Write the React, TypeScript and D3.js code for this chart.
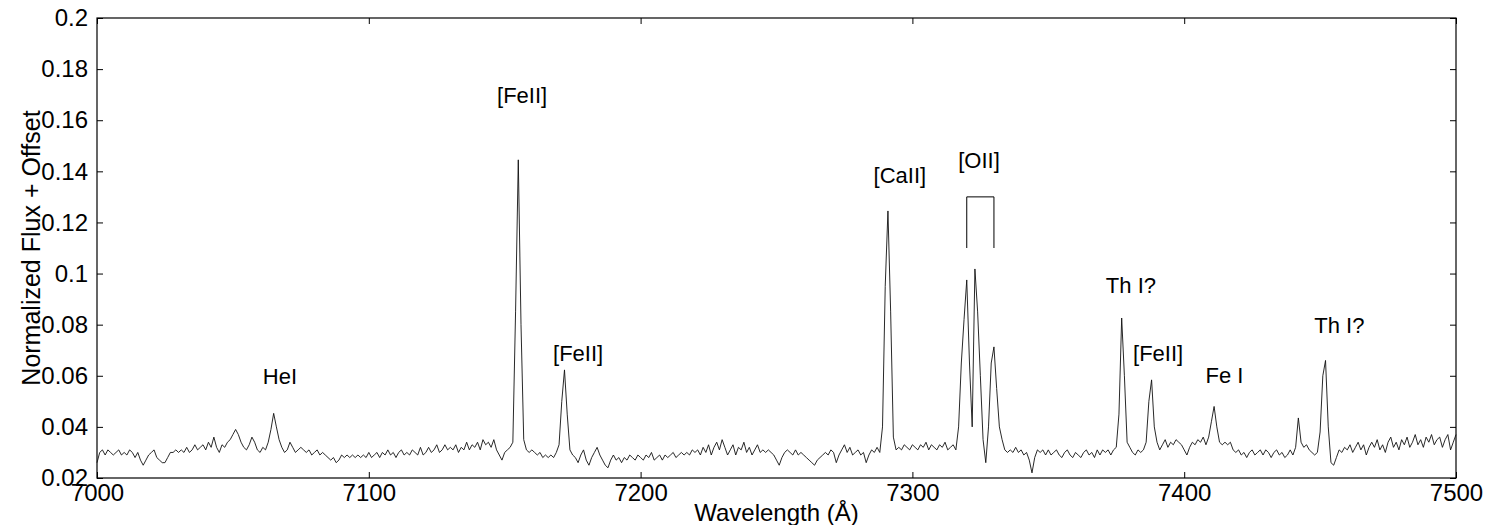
import React, { useEffect, useRef } from 'react';
import * as d3 from 'd3';

const WAVE_START = 7000;
const FLUX = [
  0.026, 0.030, 0.031, 0.029, 0.031, 0.030, 0.029, 0.030, 0.031, 0.029,
  0.030, 0.029, 0.031, 0.030, 0.028, 0.030, 0.027, 0.025, 0.027, 0.029,
  0.030, 0.031, 0.028, 0.027, 0.026, 0.026, 0.028, 0.030, 0.030, 0.031,
  0.030, 0.031, 0.030, 0.032, 0.030, 0.031, 0.033, 0.031, 0.032, 0.033,
  0.031, 0.034, 0.032, 0.036, 0.032, 0.030, 0.033, 0.032, 0.034, 0.035,
  0.037, 0.039, 0.037, 0.034, 0.032, 0.031, 0.033, 0.036, 0.034, 0.031,
  0.030, 0.032, 0.031, 0.034, 0.039, 0.0453, 0.040, 0.035, 0.032, 0.030,
  0.031, 0.034, 0.032, 0.030, 0.031, 0.032, 0.031, 0.030, 0.031, 0.029,
  0.030, 0.031, 0.029, 0.030, 0.029, 0.028, 0.027, 0.028, 0.026, 0.027,
  0.029, 0.028, 0.029, 0.028, 0.029, 0.028, 0.029, 0.028, 0.029, 0.028,
  0.030, 0.028, 0.029, 0.030, 0.028, 0.030, 0.029, 0.031, 0.029, 0.030,
  0.028, 0.030, 0.031, 0.029, 0.030, 0.029, 0.031, 0.030, 0.029, 0.032,
  0.029, 0.030, 0.032, 0.030, 0.031, 0.033, 0.030, 0.031, 0.033, 0.031,
  0.032, 0.031, 0.033, 0.030, 0.032, 0.031, 0.034, 0.031, 0.033, 0.032,
  0.034, 0.031, 0.035, 0.033, 0.034, 0.032, 0.035, 0.031, 0.029, 0.027,
  0.030, 0.031, 0.032, 0.034, 0.085, 0.1445, 0.080, 0.035, 0.031, 0.030,
  0.031, 0.030, 0.029, 0.030, 0.028, 0.029, 0.028, 0.029, 0.028, 0.030,
  0.033, 0.050, 0.0623, 0.045, 0.031, 0.029, 0.028, 0.026, 0.029, 0.031,
  0.027, 0.025, 0.028, 0.030, 0.032, 0.029, 0.027, 0.025, 0.024, 0.027,
  0.029, 0.027, 0.028, 0.026, 0.028, 0.027, 0.029, 0.028, 0.027, 0.029,
  0.028, 0.027, 0.029, 0.028, 0.030, 0.027, 0.028, 0.029, 0.027, 0.029,
  0.028, 0.029, 0.030, 0.028, 0.029, 0.030, 0.029, 0.030, 0.029, 0.031,
  0.030, 0.031, 0.029, 0.032, 0.030, 0.033, 0.029, 0.032, 0.034, 0.031,
  0.035, 0.032, 0.029, 0.031, 0.033, 0.029, 0.032, 0.031, 0.034, 0.030,
  0.032, 0.029, 0.031, 0.033, 0.030, 0.031, 0.030, 0.031, 0.030, 0.029,
  0.027, 0.025, 0.028, 0.030, 0.031, 0.030, 0.029, 0.031, 0.029, 0.030,
  0.029, 0.028, 0.027, 0.026, 0.025, 0.027, 0.028, 0.029, 0.030, 0.029,
  0.031, 0.030, 0.026, 0.029, 0.031, 0.033, 0.030, 0.032, 0.029, 0.030,
  0.031, 0.029, 0.030, 0.026, 0.029, 0.031, 0.030, 0.032, 0.030, 0.040,
  0.095, 0.1245, 0.085, 0.036, 0.031, 0.032, 0.031, 0.033, 0.032, 0.031,
  0.033, 0.032, 0.031, 0.033, 0.032, 0.034, 0.031, 0.033, 0.032, 0.031,
  0.033, 0.032, 0.034, 0.031, 0.032, 0.033, 0.031, 0.040, 0.065, 0.082,
  0.0975, 0.065, 0.040, 0.1018, 0.085, 0.060, 0.035, 0.026, 0.040, 0.065,
  0.0713, 0.055, 0.040, 0.035, 0.031, 0.030, 0.031, 0.030, 0.032, 0.030,
  0.031, 0.029, 0.030, 0.027, 0.022, 0.028, 0.031, 0.030, 0.031, 0.029,
  0.031, 0.029, 0.030, 0.031, 0.029, 0.028, 0.030, 0.031, 0.029, 0.028,
  0.030, 0.029, 0.028, 0.030, 0.031, 0.029, 0.030, 0.028, 0.031, 0.029,
  0.031, 0.030, 0.031, 0.029, 0.031, 0.032, 0.045, 0.0826, 0.060, 0.034,
  0.032, 0.030, 0.029, 0.031, 0.030, 0.031, 0.034, 0.050, 0.0584, 0.040,
  0.034, 0.031, 0.033, 0.035, 0.032, 0.034, 0.033, 0.035, 0.034, 0.033,
  0.031, 0.029, 0.032, 0.034, 0.033, 0.035, 0.034, 0.036, 0.033, 0.036,
  0.042, 0.048, 0.040, 0.034, 0.033, 0.034, 0.033, 0.034, 0.031, 0.030,
  0.031, 0.029, 0.030, 0.028, 0.030, 0.031, 0.029, 0.030, 0.031, 0.029,
  0.031, 0.030, 0.028, 0.030, 0.031, 0.029, 0.030, 0.028, 0.029, 0.031,
  0.029, 0.032, 0.0435, 0.034, 0.032, 0.033, 0.031, 0.030, 0.029, 0.030,
  0.038, 0.060, 0.066, 0.040, 0.026, 0.025, 0.028, 0.031, 0.030, 0.032,
  0.031, 0.033, 0.030, 0.032, 0.034, 0.031, 0.033, 0.029, 0.032, 0.034,
  0.032, 0.035, 0.031, 0.033, 0.030, 0.034, 0.036, 0.032, 0.034, 0.031,
  0.035, 0.033, 0.036, 0.032, 0.034, 0.037, 0.033, 0.035, 0.032, 0.036,
  0.034, 0.037, 0.033, 0.035, 0.036, 0.032, 0.035, 0.037, 0.031, 0.034,
  0.037,
];

const X_TICKS = [7000, 7100, 7200, 7300, 7400, 7500];
const Y_TICKS = [0.02, 0.04, 0.06, 0.08, 0.1, 0.12, 0.14, 0.16, 0.18, 0.2];

// line identifications: label, wavelength of label centre, flux of label baseline
const LINE_LABELS = ['HeI', '[FeII]', '[FeII]', '[CaII]', '[OII]', 'Th I?', '[FeII]', 'Fe I', 'Th I?'];
const LABEL_WAVE = [7067.3, 7156.4, 7177, 7295.4, 7324.5, 7380.4, 7390.4, 7414.8, 7457.1];
const LABEL_FLUX = [0.0568, 0.1668, 0.0658, 0.1355, 0.1413, 0.0924, 0.0658, 0.057, 0.0768];

// [OII] doublet bracket
const BRACKET_WAVE = [7320, 7330];
const BRACKET_FLUX = [0.11, 0.13];

export default function App() {
  const ref = useRef<SVGSVGElement>(null);

  useEffect(() => {
    const svg = d3.select(ref.current);
    svg.selectAll('*').remove();

    const W = 1500;
    const H = 525;
    const margin = { left: 97, right: 44, top: 18, bottom: 47 };
    const innerW = W - margin.left - margin.right;
    const innerH = H - margin.top - margin.bottom;
    const font = '"Liberation Sans", Arial, Helvetica, sans-serif';

    const x = d3.scaleLinear().domain([7000, 7500]).range([0, innerW]);
    const y = d3.scaleLinear().domain([0.02, 0.2]).range([innerH, 0]);

    const g = svg.append('g').attr('transform', `translate(${margin.left},${margin.top})`);

    const fmtY = (v: number) => String(+v.toFixed(2));

    const styleAxis = (ax: d3.Selection<SVGGElement, unknown, null, undefined>) => {
      ax.select('.domain').remove();
      ax.selectAll('.tick line').attr('stroke', '#000').attr('stroke-width', 1);
      ax.selectAll('text').attr('fill', '#000').attr('font-size', '24px').attr('font-family', font);
    };

    g.append('g')
      .attr('transform', `translate(0,${innerH})`)
      .call(d3.axisBottom(x).tickValues(X_TICKS).tickSize(-6).tickPadding(6).tickFormat((v) => String(v)))
      .call(styleAxis);
    g.append('g')
      .call(d3.axisTop(x).tickValues(X_TICKS).tickSize(-6).tickFormat(() => ''))
      .call(styleAxis);
    g.append('g')
      .call(d3.axisLeft(y).tickValues(Y_TICKS).tickSize(-6).tickPadding(9).tickFormat((v) => fmtY(+v)))
      .call(styleAxis);
    g.append('g')
      .attr('transform', `translate(${innerW},0)`)
      .call(d3.axisRight(y).tickValues(Y_TICKS).tickSize(-6).tickFormat(() => ''))
      .call(styleAxis);

    g.append('rect')
      .attr('width', innerW)
      .attr('height', innerH)
      .attr('fill', 'none')
      .attr('stroke', '#000')
      .attr('stroke-width', 1.2);

    const line = d3
      .line<number>()
      .x((_, i) => x(WAVE_START + i))
      .y((d) => y(d));

    g.append('path')
      .datum(FLUX)
      .attr('d', line)
      .attr('fill', 'none')
      .attr('stroke', '#111')
      .attr('stroke-width', 0.9)
      .attr('stroke-linejoin', 'round');

    LINE_LABELS.forEach((t, i) => {
      g.append('text')
        .attr('x', x(LABEL_WAVE[i]))
        .attr('y', y(LABEL_FLUX[i]))
        .attr('text-anchor', 'middle')
        .attr('font-size', '22px')
        .attr('font-family', font)
        .attr('fill', '#000')
        .text(t);
    });

    const [bw0, bw1] = BRACKET_WAVE;
    const [bf0, bf1] = BRACKET_FLUX;
    g.append('path')
      .attr('d', `M${x(bw0)},${y(bf0)}V${y(bf1)}H${x(bw1)}V${y(bf0)}`)
      .attr('fill', 'none')
      .attr('stroke', '#000')
      .attr('stroke-width', 1);

    g.append('text')
      .attr('x', innerW / 2)
      .attr('y', innerH + 43)
      .attr('text-anchor', 'middle')
      .attr('font-size', '24px')
      .attr('font-family', font)
      .text('Wavelength (Å)');

    g.append('text')
      .attr('transform', `translate(${40 - margin.left},${innerH / 2}) rotate(-90)`)
      .attr('text-anchor', 'middle')
      .attr('font-size', '25px')
      .attr('font-family', font)
      .text('Normalized Flux + Offset');
  }, []);

  return (
    <svg
      ref={ref}
      width={1500}
      height={525}
      style={{ position: 'absolute', left: 0, top: 0, background: '#fff' }}
    />
  );
}
